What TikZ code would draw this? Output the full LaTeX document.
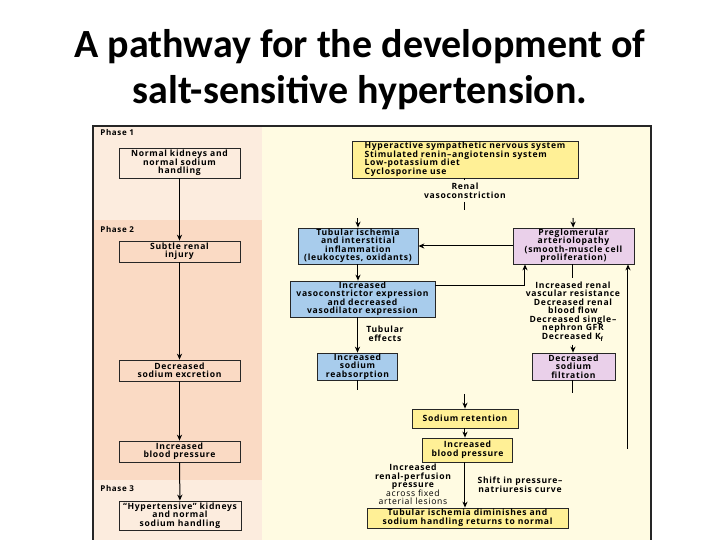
\documentclass[tikz,border=0pt]{standalone}
\usepackage{fontspec}
\usepackage{tikz}
\usetikzlibrary{arrows.meta}
\newfontfamily\titlefont[Ligatures=TeX]{Carlito}
\newfontfamily\figfont[Ligatures=TeX, LetterSpace=8]{Open Sans}
\definecolor{peachlight}{HTML}{FCECDE}
\definecolor{peachdark}{HTML}{FADAC4}
\definecolor{paneyellow}{HTML}{FFFBE2}
\definecolor{boxyellow}{HTML}{FFF096}
\definecolor{boxblue}{HTML}{A8CCEC}
\definecolor{boxpink}{HTML}{EAD0EA}
\def\boxfont{\figfont\bfseries\fontsize{4.3}{4.25}\selectfont\lineskiplimit=-10pt}
\tikzset{
	sz/.style 2 args={minimum width=#1*0.5pt, minimum height=#2*0.5pt},
	box/.style={draw=black!85, line width=0.4pt, inner sep=0pt, align=center, font=\boxfont},
	yelbox/.style={box, fill=boxyellow},
	bluebox/.style={box, fill=boxblue},
	pinkbox/.style={box, fill=boxpink},
	lbl/.style={align=center, font=\boxfont, inner sep=1.5pt},
	phase/.style={anchor=west, inner sep=0pt, font=\figfont\bfseries\fontsize{4.0}{4.0}\selectfont},
	arr/.style={-{Stealth[length=3pt, width=2.6pt]}, line width=0.5pt},
	ln/.style={line width=0.5pt}
}

\begin{document}
\begin{tikzpicture}[x=0.5pt, y=-0.5pt]
			%%%%% START %%%%%
			\useasboundingbox (0, 0) rectangle (720, 540);
			
			\node[font=\titlefont\bfseries\fontsize{20}{23}\selectfont, align=center] (title) at (360, 70)
				{A pathway for the development of\\salt-sensitive hypertension.};
			
			% panels
			\fill[paneyellow] (262, 126) rectangle (651, 540);
			\fill[peachlight] (93, 126) rectangle (262, 220);
			\fill[peachdark] (93, 220) rectangle (262, 480);
			\fill[peachlight] (93, 480) rectangle (262, 540);
			\draw[line width=0.6pt, color=black!85] (93, 540) -- (93, 126) -- (651, 126) -- (651, 540);
			
			\node[phase] (ph1) at (100, 133) {Phase 1};
			\node[phase] (ph2) at (100, 230) {Phase 2};
			\node[phase] (ph3) at (100, 489) {Phase 3};
			
			% left column
			\node[box, sz={121}{30}] (nk) at (179.5, 163) {Normal kidneys and\\normal sodium\\handling};
			\node[box, sz={121}{21}] (sri) at (179.5, 251.5) {Subtle renal\\injury};
			\node[box, sz={121}{21}] (dse) at (179.5, 370.5) {Decreased\\sodium excretion};
			\node[box, sz={121}{21}] (ibp) at (179.5, 451.5) {Increased\\blood pressure};
			\node[box, sz={122}{29}] (hk) at (180, 515.5) {``Hypertensive'' kidneys\\and normal\\sodium handling};
			
			\draw[arr] (nk) -- (sri);
			\draw[arr] (sri) -- (dse);
			\draw[arr] (dse) -- (ibp);
			\draw[arr] (ibp) -- (hk);
			
			% right column
			\node[yelbox, sz={226}{37}, align=left] (causes) at (465, 159.5)
				{Hyperactive sympathetic nervous system\\Stimulated renin--angiotensin system\\Low-potassium diet\\Cyclosporine use};
			\node[lbl] (rv) at (465, 191) {Renal\\vasoconstriction};
			\coordinate (rvend) at (465, 210);
			\draw[ln] (causes) -- (rv);
			\draw[ln] (rv) -- (rvend);
			
			\node[bluebox, sz={120}{36}] (ti) at (358, 246) {Tubular ischemia\\and interstitial\\inflammation\\(leukocytes, oxidants)};
			\node[pinkbox, sz={121}{36}] (pg) at (573.5, 246) {Preglomerular\\arteriolopathy\\(smooth-muscle cell\\proliferation)};
			\coordinate (tiin) at (358, 218);
			\coordinate (pgin) at (573, 218);
			\draw[arr] (tiin) -- (ti);
			\draw[arr] (pgin) -- (pg);
			\draw[arr] (pg) -- (ti);
			
			\node[bluebox, sz={145}{36}] (vc) at (362.5, 299) {Increased\\vasoconstrictor expression\\and decreased\\vasodilator expression};
			\coordinate (vcl) at (525, 286);
			\draw[arr] (ti.south) -- (ti.south |- vc.north);
			\draw[arr] (vc.east |- vcl) -- (vcl) -- (vcl |- pg.south);
			
			\node[lbl] (te) at (385, 334) {Tubular\\effects};
			\node[bluebox, sz={80}{27}] (isr) at (357.5, 366.5) {Increased\\sodium\\reabsorption};
			\draw[arr] (vc.south -| isr.north) -- (isr.north);
			
			\node[lbl] (hemo) at (573, 311.5) {Increased renal\\vascular resistance\\Decreased renal\\blood flow\\Decreased single--\\nephron GFR\\Decreased K\textsubscript{f}};
			\node[pinkbox, sz={83}{27}] (dsf) at (573.5, 366.5) {Decreased\\sodium\\filtration};
			\draw[ln] (pg.south -| hemo.north) -- (hemo.north);
			\draw[arr] (hemo.south) -- (hemo.south |- dsf.north);
			
			\coordinate (isrend) at (358, 390);
			\coordinate (dsfend) at (573, 393);
			\draw[ln] (isr.south -| isrend) -- (isrend);
			\draw[ln] (dsf.south -| dsfend) -- (dsfend);
			
			\node[yelbox, sz={106}{19}] (sr) at (465, 418.5) {Sodium retention};
			\node[yelbox, sz={90}{24}] (bp) at (467.5, 450) {Increased\\blood pressure};
			\node[yelbox, sz={201}{20}] (tid) at (467.5, 518) {Tubular ischemia diminishes and\\sodium handling returns to normal};
			\coordinate (srin) at (465, 394);
			\draw[arr] (srin) -- (sr);
			\draw[arr] (sr.south) -- (sr.south |- bp.north);
			\draw[arr] (bp.south -| sr.south) -- (sr.south |- tid.north);
			
			\node[lbl] (rpp) at (413, 484.5) {Increased\\renal-perfusion\\pressure\\{\mdseries across fixed}\\{\mdseries arterial lesions}};
			\node[lbl] (pn) at (520, 485) {Shift in pressure--\\natriuresis curve};
			
			\coordinate (fb) at (628, 449);
			\draw[arr] (fb) -- (fb |- pg.south);
			
			%%%%% END %%%%%
\end{tikzpicture}
\end{document}
